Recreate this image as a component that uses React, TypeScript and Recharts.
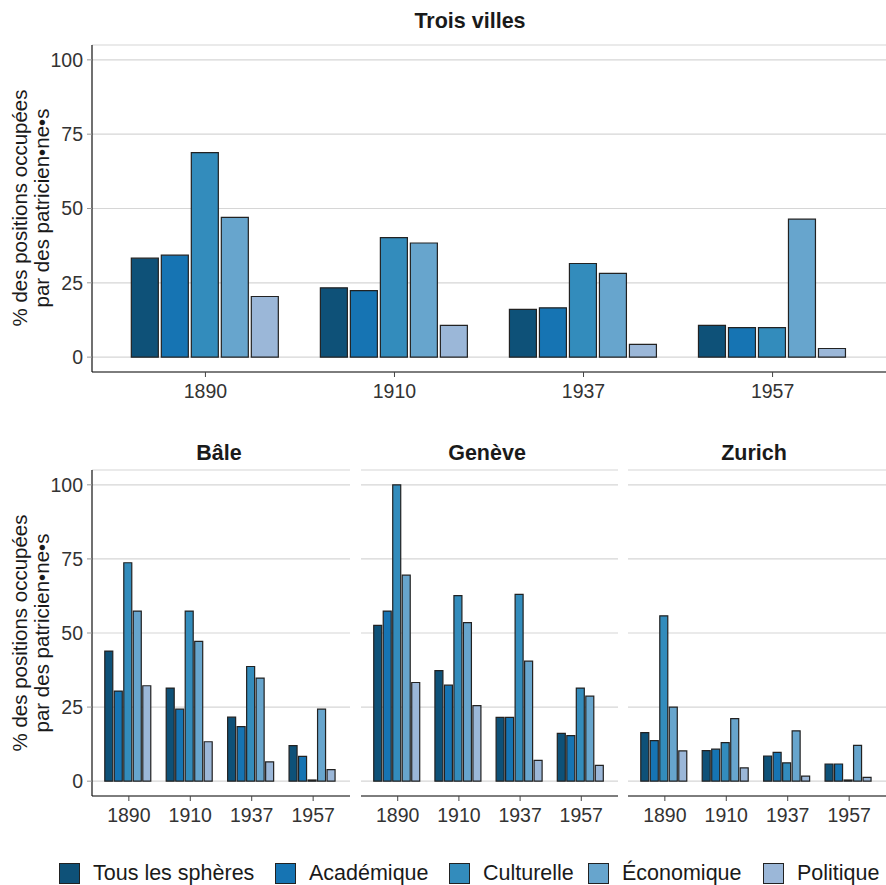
import { BarChart, Bar, XAxis, YAxis, CartesianGrid } from 'recharts';

const FONT = '"Liberation Sans", Arial, Helvetica, sans-serif';

const YEARS = ['1890', '1910', '1937', '1957'];
const Y_TICKS = [0, 25, 50, 75, 100];

const SERIES = [
  { key: 'tous', label: 'Tous les sphères', color: '#0e5178' },
  { key: 'acad', label: 'Académique', color: '#1674b3' },
  { key: 'cult', label: 'Culturelle', color: '#338cbc' },
  { key: 'econ', label: 'Économique', color: '#67a5cd' },
  { key: 'poli', label: 'Politique', color: '#9bb7d8' },
];

// Trois villes
const TROIS_TOUS = [33.3, 23.3, 16.1, 10.7];
const TROIS_ACAD = [34.3, 22.4, 16.6, 9.9];
const TROIS_CULT = [68.8, 40.2, 31.5, 9.9];
const TROIS_ECON = [47.0, 38.4, 28.2, 46.4];
const TROIS_POLI = [20.4, 10.7, 4.3, 2.9];

// Bâle
const BALE_TOUS = [43.9, 31.4, 21.6, 12.0];
const BALE_ACAD = [30.4, 24.3, 18.4, 8.4];
const BALE_CULT = [73.7, 57.4, 38.7, 0.4];
const BALE_ECON = [57.4, 47.2, 34.8, 24.3];
const BALE_POLI = [32.2, 13.3, 6.5, 3.9];

// Genève
const GENEVE_TOUS = [52.6, 37.3, 21.5, 16.1];
const GENEVE_ACAD = [57.4, 32.4, 21.5, 15.4];
const GENEVE_CULT = [100, 62.6, 63.0, 31.4];
const GENEVE_ECON = [69.5, 53.5, 40.5, 28.7];
const GENEVE_POLI = [33.3, 25.5, 7.0, 5.3];

// Zurich
const ZURICH_TOUS = [16.4, 10.3, 8.5, 5.8];
const ZURICH_ACAD = [13.7, 10.8, 9.7, 5.8];
const ZURICH_CULT = [55.8, 13.0, 6.2, 0.4];
const ZURICH_ECON = [25.0, 21.1, 17.0, 12.1];
const ZURICH_POLI = [10.2, 4.5, 1.7, 1.3];

function rows(tous: number[], acad: number[], cult: number[], econ: number[], poli: number[]) {
  return YEARS.map((year, i) => ({
    year,
    tous: tous[i],
    acad: acad[i],
    cult: cult[i],
    econ: econ[i],
    poli: poli[i],
  }));
}

const troisData = rows(TROIS_TOUS, TROIS_ACAD, TROIS_CULT, TROIS_ECON, TROIS_POLI);
const baleData = rows(BALE_TOUS, BALE_ACAD, BALE_CULT, BALE_ECON, BALE_POLI);
const geneveData = rows(GENEVE_TOUS, GENEVE_ACAD, GENEVE_CULT, GENEVE_ECON, GENEVE_POLI);
const zurichData = rows(ZURICH_TOUS, ZURICH_ACAD, ZURICH_CULT, ZURICH_ECON, ZURICH_POLI);

const tickStyle = { fill: '#333', fontSize: 19.5, fontFamily: FONT };

interface PanelProps {
  data: ReturnType<typeof rows>;
  left: number;
  top: number;
  width: number;
  height: number;
  marginTop: number;
  xAxisHeight: number;
  showY: boolean;
  barGap: number;
}

function Panel({ data, left, top, width, height, marginTop, xAxisHeight, showY, barGap }: PanelProps) {
  const plotW = width - (showY ? 92 : 0);
  const pad = plotW / 42;
  return (
    <div style={{ position: 'absolute', left, top }}>
      <BarChart
        width={width}
        height={height}
        data={data}
        margin={{ top: marginTop, right: 0, bottom: 0, left: 0 }}
        barCategoryGap="10.8%"
        barGap={barGap}
      >
        <CartesianGrid vertical={false} stroke="#d6d6d6" strokeWidth={1.2} />
        <XAxis
          dataKey="year"
          height={xAxisHeight}
          padding={{ left: pad, right: pad }}
          axisLine={{ stroke: '#111', strokeWidth: 1.2 }}
          tickLine={{ stroke: '#444' }}
          tickSize={5}
          tickMargin={7}
          tick={tickStyle}
          interval={0}
        />
        <YAxis
          hide={!showY}
          width={92}
          domain={[-5, 105]}
          ticks={Y_TICKS}
          interval={0}
          allowDataOverflow
          axisLine={{ stroke: '#111', strokeWidth: 1.2 }}
          tickLine={{ stroke: '#999' }}
          tickSize={5}
          tickMargin={4}
          tick={tickStyle}
        />
        {SERIES.map((s) => (
          <Bar
            key={s.key}
            dataKey={s.key}
            fill={s.color}
            stroke="#222"
            strokeWidth={1.2}
            isAnimationActive={false}
          />
        ))}
      </BarChart>
    </div>
  );
}

const titleStyle: React.CSSProperties = {
  position: 'absolute',
  fontFamily: FONT,
  fontWeight: 'bold',
  fontSize: 21.5,
  lineHeight: '22px',
  color: '#1a1a1a',
  transform: 'translateX(-50%)',
  whiteSpace: 'nowrap',
};

function YLabel({ cx, cy }: { cx: number; cy: number }) {
  const w = 400;
  const h = 44;
  return (
    <div
      style={{
        position: 'absolute',
        left: cx - w / 2,
        top: cy - h / 2,
        width: w,
        height: h,
        transform: 'rotate(-90deg)',
        textAlign: 'center',
        fontFamily: FONT,
        fontSize: 20.5,
        lineHeight: '22px',
        color: '#1a1a1a',
      }}
    >
      % des positions occupées
      <br />
      par des patricien•ne•s
    </div>
  );
}

const LEGEND_LEFTS = [59, 275, 449, 588, 763];

export default function App() {
  return (
    <div
      style={{
        position: 'absolute',
        left: 0,
        top: 0,
        width: 886,
        height: 885,
        background: '#fff',
        overflow: 'hidden',
      }}
    >
      <div style={{ ...titleStyle, left: 470, top: 10 }}>Trois villes</div>
      <YLabel cx={31} cy={208} />
      <Panel data={troisData} left={0} top={0} width={886} height={410} marginTop={45} xAxisHeight={38} showY barGap={3} />

      <div style={{ ...titleStyle, left: 219, top: 442 }}>Bâle</div>
      <div style={{ ...titleStyle, left: 487, top: 442 }}>Genève</div>
      <div style={{ ...titleStyle, left: 754, top: 442 }}>Zurich</div>
      <YLabel cx={31} cy={633} />
      <Panel data={baleData} left={0} top={430} width={350} height={410} marginTop={40} xAxisHeight={44} showY barGap={1.5} />
      <Panel data={geneveData} left={361} top={430} width={257} height={410} marginTop={40} xAxisHeight={44} showY={false} barGap={1.5} />
      <Panel data={zurichData} left={628} top={430} width={258} height={410} marginTop={40} xAxisHeight={44} showY={false} barGap={1.5} />

      {SERIES.map((s, i) => (
        <div
          key={s.key}
          style={{
            position: 'absolute',
            left: LEGEND_LEFTS[i],
            top: 862,
            display: 'flex',
            alignItems: 'center',
            fontFamily: FONT,
            fontSize: 21.5,
            color: '#1a1a1a',
            whiteSpace: 'nowrap',
          }}
        >
          <span
            style={{
              display: 'inline-block',
              width: 21,
              height: 21,
              boxSizing: 'border-box',
              background: s.color,
              border: '1.2px solid #222',
              marginRight: 13,
            }}
          />
          <span style={{ lineHeight: '22px' }}>{s.label}</span>
        </div>
      ))}
    </div>
  );
}
